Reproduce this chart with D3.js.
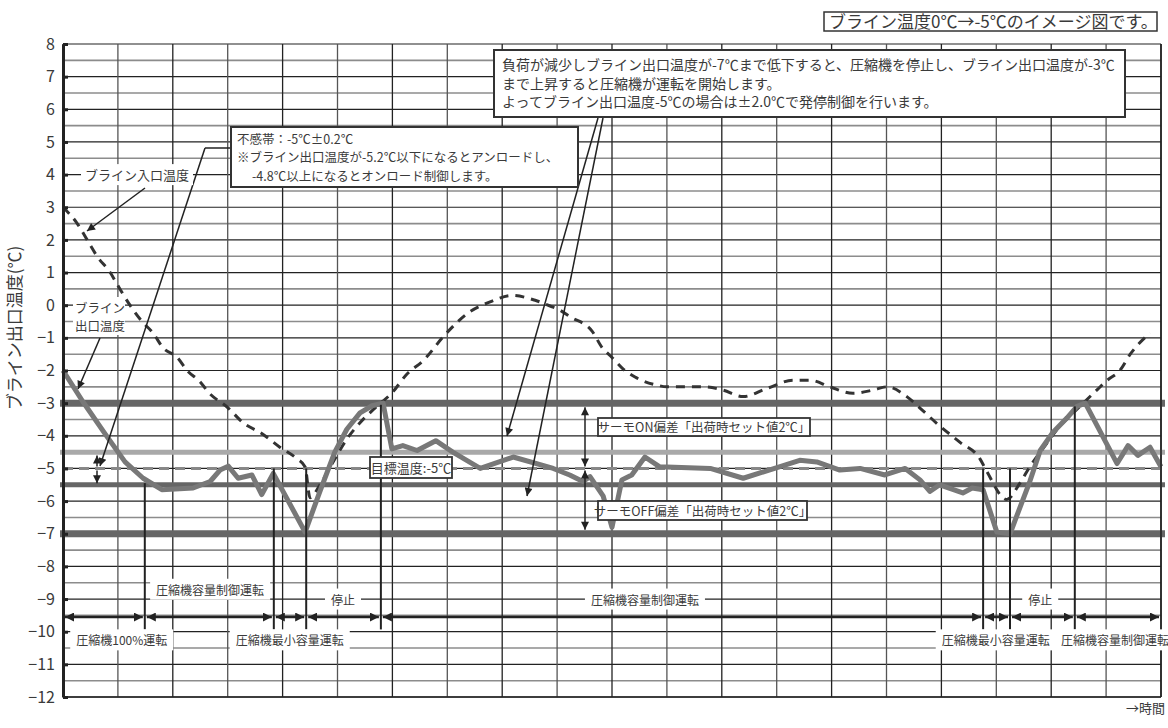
<!DOCTYPE html>
<html>
<head>
<meta charset="utf-8">
<script src="https://cdn.jsdelivr.net/npm/d3@7"></script>
<style>
  html, body { margin: 0; padding: 0; background: #fff; }
  svg { display: block; }
  text { font-family: "Noto Sans CJK JP", "Noto Sans", sans-serif; fill: #3a3a3a; }
</style>
</head>
<body>
<svg id="chart" width="1168" height="728"></svg>
<script>
// ---- data -------------------------------------------------------------
// time is measured in grid columns (0..20)
const outletTimes = [0, 0.36, 0.77, 1.13, 1.46, 1.80, 2.37, 2.68, 2.86, 3.01, 3.19, 3.44, 3.62, 3.83,
  4.41, 4.68, 4.95, 5.17, 5.41, 5.63, 5.83, 5.99, 6.19, 6.45, 6.79, 7.10, 7.60, 8.20, 8.93, 9.23,
  9.47, 9.60, 9.84, 10.00, 10.18, 10.36, 10.60, 10.87, 11.79, 12.39, 13.42, 13.73, 14.15, 14.52,
  14.97, 15.34, 15.61, 15.79, 15.97, 16.39, 16.56, 16.76, 17.01, 17.25, 17.61, 17.80, 18.03, 18.29,
  18.47, 18.62, 19.20, 19.40, 19.58, 19.80, 20.0];
const outletTemp = [-2.0, -2.95, -3.95, -4.8, -5.3, -5.65, -5.6, -5.4, -5.05, -4.93, -5.3, -5.2, -5.8, -5.15,
  -6.95, -5.7, -4.5, -3.8, -3.3, -3.08, -3.0, -4.4, -4.3, -4.45, -4.15, -4.5, -5.0, -4.65, -5.0, -5.2,
  -5.4, -5.25, -5.85, -6.8, -5.35, -5.2, -4.65, -4.95, -5.0, -5.3, -4.75, -4.8, -5.05, -5.0,
  -5.2, -5.0, -5.35, -5.7, -5.5, -5.75, -5.6, -5.65, -6.95, -7.0, -5.4, -4.45, -3.9, -3.45,
  -3.1, -3.0, -4.85, -4.3, -4.6, -4.35, -4.95];

const inletTimes = [0, 0.26, 0.44, 0.62, 0.86, 1.00, 1.22, 1.44, 1.64, 1.82, 2.08, 2.26, 2.50, 2.64,
  3.01, 3.28, 3.64, 3.95, 4.26, 4.41, 4.50, 4.68, 4.92, 5.17, 5.41, 5.65, 6.01, 6.27, 6.56, 6.96,
  7.41, 7.78, 8.18, 8.60, 8.91, 9.05, 9.23, 9.64, 9.82, 10.00, 10.20, 10.42, 10.82, 11.00, 11.66,
  12.02, 12.39, 12.82, 13.30, 13.61, 13.97, 14.39, 14.75, 15.01, 15.37, 15.61, 15.97, 16.34, 16.70,
  16.83, 17.19, 17.43, 17.61, 17.89, 18.16, 18.40, 18.83, 19.02, 19.25, 19.44, 19.80];
const inletTemp = [3.0, 2.5, 2.0, 1.5, 1.0, 0.6, 0.0, -0.5, -0.85, -1.3, -1.6, -2.0, -2.35, -2.65,
  -3.15, -3.6, -3.95, -4.35, -4.7, -4.95, -5.9, -5.5, -4.8, -4.1, -3.6, -3.2, -2.65, -2.1, -1.7, -0.9,
  -0.2, 0.1, 0.3, 0.15, -0.05, -0.15, -0.35, -0.8, -1.3, -1.6, -1.95, -2.2, -2.45, -2.5, -2.5,
  -2.6, -2.8, -2.55, -2.3, -2.3, -2.5, -2.7, -2.6, -2.5, -2.8, -3.15, -3.7, -4.2, -4.7,
  -5.1, -5.95, -5.45, -4.95, -4.3, -3.7, -3.3, -2.6, -2.3, -2.0, -1.5, -0.85];

const yTicks = [8, 7, 6, 5, 4, 3, 2, 1, 0, -1, -2, -3, -4, -5, -6, -7, -8, -9, -10, -11, -12];

// control levels: stop, thermo ON, target, unload, thermo OFF
const levelValues = [-3, -4.5, -5, -5.5, -7];
const levelNames = ["stop", "on", "target", "unload", "off"];

// operation phases along the time axis
const phaseBounds = [0, 1.49, 3.84, 4.43, 5.79, 16.76, 17.25, 18.43, 20];
const phaseTops = [-5.45, -5.0, -5.0, -3.05, -5.0, -5.0, -3.1];
const phaseLabels = ["圧縮機100%運転", "圧縮機容量制御運転", "圧縮機最小容量運転", "停止",
  "圧縮機容量制御運転", "圧縮機最小容量運転", "停止", "圧縮機容量制御運転"];
const phaseLabelAt = [1.07, 2.68, 4.13, 5.10, 10.60, 16.99, 17.80, 19.16];
const phaseLabelTemp = [-10.25, -8.7, -10.25, -9.0, -9.0, -10.25, -9.0, -10.25];

// ---- drawing -----------------------------------------------------------
const svg = d3.select("#chart");
const x = d3.scaleLinear().domain([0, 20]).range([63, 1161]);
const y = d3.scaleLinear().domain([-12, 8]).range([697, 44]);

svg.append("rect").attr("width", 1168).attr("height", 728).attr("fill", "#fff");

const defs = svg.append("defs");
function marker(id, len, wid) {
  defs.append("marker").attr("id", id)
    .attr("viewBox", "0 0 10 10").attr("refX", 10).attr("refY", 5)
    .attr("markerUnits", "userSpaceOnUse")
    .attr("markerWidth", len).attr("markerHeight", wid)
    .attr("orient", "auto-start-reverse")
    .append("path").attr("d", "M0,0L10,5L0,10z").attr("fill", "#222");
}
marker("ah", 9, 9);
marker("ahs", 11, 8);

// grid
const grid = svg.append("g");
const halfSteps = d3.range(-12, 8.001, 0.5);
grid.selectAll("line.h").data(halfSteps).join("line")
  .attr("x1", x(0)).attr("x2", x(20))
  .attr("y1", d => y(d)).attr("y2", d => y(d))
  .attr("stroke", d => Number.isInteger(d) ? "#222" : "#8c8c8c")
  .attr("stroke-width", d => Number.isInteger(d) ? 1.2 : 1.6);
grid.selectAll("line.v").data(d3.range(0, 21)).join("line")
  .attr("x1", d => x(d)).attr("x2", d => x(d))
  .attr("y1", y(8)).attr("y2", y(-12))
  .attr("stroke", (d, i) => i % 2 ? "#555" : "#222")
  .attr("stroke-width", 1.3);

// control levels
const levelStyle = {
  stop:   { c: "#666", w: 7, dash: null },
  on:     { c: "#a9a9a9", w: 5, dash: null },
  target: { c: "#888", w: 3, dash: "10,6" },
  unload: { c: "#666", w: 5, dash: null },
  off:    { c: "#666", w: 7, dash: null }
};
svg.append("g").selectAll("line").data(levelValues).join("line")
  .attr("x1", (d, i) => levelNames[i] === "target" ? x(0) : x(0) - 3)
  .attr("x2", x(20) + 4)
  .attr("y1", d => y(d)).attr("y2", d => y(d))
  .attr("stroke", (d, i) => levelStyle[levelNames[i]].c)
  .attr("stroke-width", (d, i) => levelStyle[levelNames[i]].w)
  .attr("stroke-dasharray", (d, i) => levelStyle[levelNames[i]].dash);

// inlet temperature (dashed)
const inletLine = d3.line().x(d => x(d[0])).y(d => y(d[1])).curve(d3.curveMonotoneX);
svg.append("path")
  .datum(inletTimes.map((t, i) => [t, inletTemp[i]]))
  .attr("d", inletLine)
  .attr("fill", "none").attr("stroke", "#333").attr("stroke-width", 3)
  .attr("stroke-dasharray", "9,7");

// outlet temperature (solid)
const outletLine = d3.line().x(d => x(d[0])).y(d => y(d[1]));
svg.append("path")
  .datum(outletTimes.map((t, i) => [t, outletTemp[i]]))
  .attr("d", outletLine)
  .attr("fill", "none").attr("stroke", "#787878").attr("stroke-width", 5)
  .attr("stroke-linejoin", "round");

// axis
const axis = d3.axisLeft(y).tickValues(yTicks).tickSize(-5).tickSizeOuter(0).tickPadding(8);
const ax = svg.append("g").attr("transform", `translate(${x(0)},0)`).call(axis);
ax.select(".domain").attr("stroke", "#222").attr("stroke-width", 3);
ax.selectAll(".tick line").attr("stroke", "#222").attr("stroke-width", 3);
ax.selectAll(".tick text").attr("font-size", 16).attr("fill", "#444")
  .attr("font-family", "'Noto Sans', sans-serif");
// bottom and right frame
svg.append("line").attr("x1", x(0)).attr("x2", x(20)).attr("y1", y(-12)).attr("y2", y(-12))
  .attr("stroke", "#222").attr("stroke-width", 1.6);
svg.append("line").attr("x1", x(20)).attr("x2", x(20)).attr("y1", y(8)).attr("y2", y(-12))
  .attr("stroke", "#222").attr("stroke-width", 1.6);

svg.append("text").attr("transform", "translate(21,328) rotate(-90)")
  .attr("text-anchor", "middle").attr("font-size", 17).attr("fill", "#444")
  .text("ブライン出口温度(℃)");
svg.append("text").attr("x", 1165).attr("y", 713).attr("text-anchor", "end")
  .attr("font-size", 13).text("→時間");

// phase boundaries
const arrowY = y(-9.55);
svg.append("g").selectAll("line").data(phaseTops).join("line")
  .attr("x1", (d, i) => x(phaseBounds[i + 1])).attr("x2", (d, i) => x(phaseBounds[i + 1]))
  .attr("y1", d => y(d)).attr("y2", y(-9.9) + 1)
  .attr("stroke", "#222").attr("stroke-width", 2);
svg.append("g").selectAll("line").data(d3.pairs(phaseBounds)).join("line")
  .attr("x1", d => x(d[0]) + 2).attr("x2", d => x(d[1]) - 2)
  .attr("y1", arrowY).attr("y2", arrowY)
  .attr("stroke", "#222").attr("stroke-width", 2.5)
  .attr("marker-start", "url(#ah)").attr("marker-end", "url(#ah)");

// labelled text with white background
function label(cx, cy, str, size, padX, padY) {
  const g = svg.append("g");
  const r = g.append("rect").attr("fill", "#fff");
  const t = g.append("text").attr("x", cx).attr("y", cy).attr("text-anchor", "middle")
    .attr("dominant-baseline", "central").attr("font-size", size).text(str);
  const b = t.node().getBBox();
  r.attr("x", b.x - padX).attr("y", b.y - padY).attr("width", b.width + 2 * padX).attr("height", b.height + 2 * padY);
  return g;
}
phaseLabels.forEach((s, i) => label(x(phaseLabelAt[i]), y(phaseLabelTemp[i]), s, 12, 6, 2));

// boxed notes
function box(x0, y0, w, h, lines, size, sw) {
  const g = svg.append("g");
  g.append("rect").attr("x", x0).attr("y", y0).attr("width", w).attr("height", h)
    .attr("fill", "#fff").attr("stroke", "#333").attr("stroke-width", sw);
  lines.forEach(l => g.append("text").attr("x", l[0]).attr("y", l[1])
    .attr("font-size", size).attr("text-anchor", l[2] || "start").text(l[3]));
}

box(824, 12, 333, 19, [[829, 28, "start", "ブライン温度0℃→-5℃のイメージ図です。"]], 17, 1.5);

// leader lines from the on/off note
svg.append("line").attr("x1", 598).attr("y1", 118).attr("x2", 507).attr("y2", 436)
  .attr("stroke", "#222").attr("stroke-width", 1.5).attr("marker-end", "url(#ahs)");
svg.append("line").attr("x1", 603).attr("y1", 118).attr("x2", 527).attr("y2", 496)
  .attr("stroke", "#222").attr("stroke-width", 1.5).attr("marker-end", "url(#ahs)");

box(494, 50, 631, 67, [
  [502, 70, "start", "負荷が減少しブライン出口温度が-7℃まで低下すると、圧縮機を停止し、ブライン出口温度が-3℃"],
  [502, 88.5, "start", "まで上昇すると圧縮機が運転を開始します。"],
  [502, 107, "start", "よってブライン出口温度-5℃の場合は±2.0℃で発停制御を行います。"]
], 14, 2);

// dead band note and its leader
svg.append("polyline").attr("points", "232,148 205,148").attr("fill", "none")
  .attr("stroke", "#222").attr("stroke-width", 1.5);
svg.append("line").attr("x1", 205).attr("y1", 148).attr("x2", 100).attr("y2", 466)
  .attr("stroke", "#222").attr("stroke-width", 1.5).attr("marker-end", "url(#ahs)");
box(231, 127, 347, 60, [
  [237, 143.5, "start", "不感帯：-5℃±0.2℃"],
  [237, 162, "start", "※ブライン出口温度が-5.2℃以下になるとアンロードし、"],
  [252, 180.5, "start", "-4.8℃以上になるとオンロード制御します。"]
], 12.5, 2);

// dead band span
svg.append("line").attr("x1", 97).attr("x2", 97).attr("y1", y(-5) - 2).attr("y2", y(-4.6))
  .attr("stroke", "#222").attr("stroke-width", 1.5).attr("marker-end", "url(#ahs)");
svg.append("line").attr("x1", 97).attr("x2", 97).attr("y1", y(-5) + 2).attr("y2", y(-5.45))
  .attr("stroke", "#222").attr("stroke-width", 1.5).attr("marker-end", "url(#ahs)");

// series labels
label(137, y(4), "ブライン入口温度", 13, 4, 1);
svg.append("line").attr("x1", 145).attr("y1", 188).attr("x2", 87).attr("y2", 231)
  .attr("stroke", "#222").attr("stroke-width", 1.5).attr("marker-end", "url(#ahs)");
const ol = svg.append("g");
ol.append("rect").attr("x", 73).attr("y", 297).attr("width", 52).attr("height", 38).attr("fill", "#fff");
ol.append("text").attr("x", 75).attr("y", 313).attr("font-size", 12.5).text("ブライン");
ol.append("text").attr("x", 75).attr("y", 330.5).attr("font-size", 12.5).text("出口温度");
svg.append("line").attr("x1", 100).attr("y1", 338).attr("x2", 78).attr("y2", 389)
  .attr("stroke", "#222").attr("stroke-width", 1.5).attr("marker-end", "url(#ahs)");

// thermo ON / OFF spans
svg.append("line").attr("x1", 585).attr("x2", 585).attr("y1", y(-3) + 4).attr("y2", y(-5) - 2)
  .attr("stroke", "#222").attr("stroke-width", 1.5)
  .attr("marker-start", "url(#ahs)").attr("marker-end", "url(#ahs)");
svg.append("line").attr("x1", 585).attr("x2", 585).attr("y1", y(-5) + 2).attr("y2", y(-7) - 4)
  .attr("stroke", "#222").attr("stroke-width", 1.5)
  .attr("marker-start", "url(#ahs)").attr("marker-end", "url(#ahs)");

box(598, 418, 212, 18, [[704, 432, "middle", "サーモON偏差「出荷時セット値2℃」"]], 12.5, 1.8);
box(598, 501, 209, 19, [[702.5, 515.5, "middle", "サーモOFF偏差「出荷時セット値2℃」"]], 12.5, 1.8);
box(370, 457, 82, 21, [[411, 472.5, "middle", "目標温度:-5℃"]], 13, 1.8);
</script>
</body>
</html>
